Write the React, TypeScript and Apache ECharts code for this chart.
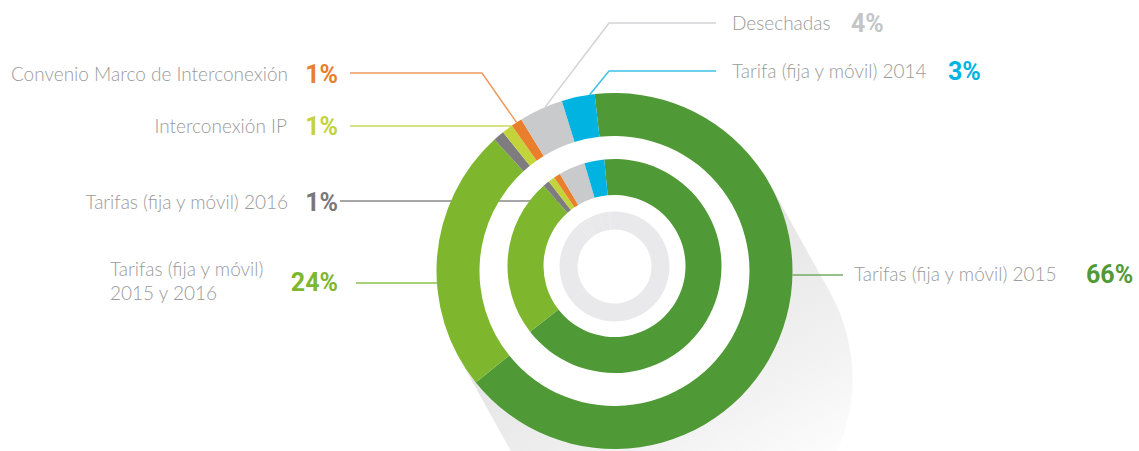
import React, { useEffect, useRef } from "react";
import * as echarts from "echarts";

// ---- data ----
const categories = [
  "Tarifas (fija y móvil) 2015",
  "Tarifas (fija y móvil)\n2015 y 2016",
  "Tarifas (fija y móvil) 2016",
  "Interconexión IP",
  "Convenio Marco de Interconexión",
  "Desechadas",
  "Tarifa (fija y móvil) 2014",
];
const values = [66, 24, 1, 1, 1, 4, 3];
const sliceColors = ["#4f9a36", "#7eb72e", "#7f7c7f", "#c3d33a", "#e97e2c", "#c9cacc", "#00b3e1"];
const pctColors = ["#4f9a36", "#7eb72e", "#7a777a", "#c3d33a", "#e97e2c", "#c4c5c7", "#00b3e1"];
const lineColors = ["#74ad63", "#8cc04a", "#8a888a", "#ccd95a", "#ee9a5e", "#d2d3d5", "#3cc2e8"];

// ---- layout ----
const OUTER = { cx: 614.5, cy: 271, r0: 135, r1: 178, start: 96.4 };
const INNER = { cx: 614.5, cy: 266, r0: 71, r1: 107, start: 95.5 };
const CORE = { cx: 614.5, cy: 266.5, r0: 37, r1: 55 };
const SHADOW_OFFSET = [60, 108];

const NAME_FONT = "Lato, 'Open Sans', sans-serif";
const PCT_FONT = "Roboto, 'Noto Sans', sans-serif";

const total = values.reduce((a, b) => a + b, 0);
const cum = values.map((_, i) => values.slice(0, i).reduce((a, b) => a + b, 0));

// angle in degrees, clockwise from 12 o'clock
const sliceAngle = (ring: typeof OUTER, i: number, f: number) =>
  ((cum[i] + f * values[i]) / total) * 360 - (ring.start - 90);
const onCircle = (ring: typeof OUTER, r: number, deg: number) => {
  const a = (deg * Math.PI) / 180;
  return [ring.cx + r * Math.sin(a), ring.cy - r * Math.cos(a)];
};
const hitY = (ring: typeof OUTER, r: number, y: number, side: number) => [
  ring.cx + side * Math.sqrt(r * r - (y - ring.cy) * (y - ring.cy)),
  y,
];
const atAngleY = (ring: typeof OUTER, deg: number, y: number) => {
  const a = (deg * Math.PI) / 180;
  const r = (ring.cy - y) / Math.cos(a);
  return [ring.cx + r * Math.sin(a), y];
};

type Pos = { x: number; y: number; align: "left" | "right" };
const pctPos: Pos[] = [
  { x: 1086, y: 274, align: "left" },
  { x: 338, y: 282, align: "right" },
  { x: 338, y: 202, align: "right" },
  { x: 338, y: 126, align: "right" },
  { x: 338, y: 74, align: "right" },
  { x: 851, y: 23, align: "left" },
  { x: 948, y: 71, align: "left" },
];
const namePos: Pos[] = [
  { x: 854, y: 273, align: "left" },
  { x: 110, y: 280, align: "left" },
  { x: 288, y: 201, align: "right" },
  { x: 287, y: 125, align: "right" },
  { x: 288, y: 73, align: "right" },
  { x: 732, y: 22, align: "left" },
  { x: 732, y: 70, align: "left" },
];

const leaderLines = (): number[][][] => [
  [hitY(OUTER, OUTER.r1, 275, 1), [818, 275], [843, 275]],
  [hitY(OUTER, OUTER.r1, 283, -1), [396, 283], [356, 283]],
  [atAngleY(INNER, sliceAngle(INNER, 2, 0.5), 201), [450, 201], [340, 201]],
  [hitY(OUTER, OUTER.r1, 126, -1), [430, 126], [350, 126]],
  [onCircle(OUTER, OUTER.r1, sliceAngle(OUTER, 4, 0.5)), [482, 73], [350, 73]],
  [onCircle(OUTER, OUTER.r1, sliceAngle(OUTER, 5, 0.6)), [609, 23], [716, 23]],
  [onCircle(OUTER, OUTER.r1, sliceAngle(OUTER, 6, 0.85)), [609, 71], [716, 71]],
];

function buildShadow() {
  const [ox, oy] = SHADOW_OFFSET;
  const len = Math.hypot(ox, oy);
  const dx = ox / len;
  const dy = oy / len;
  const px = -dy; // perpendicular
  const py = dx;
  const r = OUTER.r1;
  const t1 = [OUTER.cx - r * px, OUTER.cy - r * py];
  const t2 = [OUTER.cx + r * px, OUTER.cy + r * py];
  const mk = () =>
    new echarts.graphic.LinearGradient(
      OUTER.cx,
      OUTER.cy,
      OUTER.cx + dx * 290,
      OUTER.cy + dy * 290,
      [
        { offset: 0, color: "#e3e3e3" },
        { offset: 0.6, color: "#f2f2f2" },
        { offset: 1, color: "#ffffff" },
      ],
      true
    );
  return [
    {
      type: "circle",
      silent: true,
      z: -20,
      shape: { cx: OUTER.cx + ox, cy: OUTER.cy + oy, r },
      style: { fill: mk() },
    },
    {
      type: "polygon",
      silent: true,
      z: -19,
      shape: {
        points: [t1, [t1[0] + ox, t1[1] + oy], [t2[0] + ox, t2[1] + oy], t2],
      },
      style: { fill: mk() },
    },
    {
      type: "circle",
      silent: true,
      z: -10,
      shape: { cx: OUTER.cx, cy: OUTER.cy, r: r - 1 },
      style: { fill: "#ffffff" },
    },
  ];
}

export default function App() {
  const ref = useRef<HTMLDivElement>(null);
  useEffect(() => {
    if (!ref.current) return;
    const chart = echarts.init(ref.current, undefined, { renderer: "svg" });
    const lines = leaderLines();

    const outerData = categories.map((name, i) => ({
      name,
      value: values[i],
      itemStyle: { color: sliceColors[i] },
      label: { color: pctColors[i] },
      labelLine: { lineStyle: { color: lineColors[i] } },
    }));
    const innerData = categories.map((name, i) => ({
      name,
      value: values[i],
      itemStyle: { color: sliceColors[i] },
    }));
    const coreData = categories.map((name, i) => ({
      name,
      value: values[i],
      itemStyle: { color: "#e9e9eb" },
    }));

    chart.setOption({
      animation: false,
      backgroundColor: "#ffffff",
      graphic: { elements: buildShadow() },
      series: [
        {
          type: "pie",
          name: "outer",
          center: [OUTER.cx, OUTER.cy],
          radius: [OUTER.r0, OUTER.r1],
          startAngle: OUTER.start,
          clockwise: true,
          silent: true,
          avoidLabelOverlap: false,
          emphasis: { disabled: true },
          itemStyle: { borderWidth: 0 },
          label: {
            show: true,
            position: "outside",
            formatter: (p: any) => `${p.value}%`,
            fontFamily: PCT_FONT,
            fontWeight: "bold",
            fontSize: 25,
          },
          labelLine: { show: true, smooth: false, lineStyle: { width: 1.5 } },
          labelLayout: (p: any) => {
            const i = p.dataIndex;
            return {
              x: pctPos[i].x,
              y: pctPos[i].y,
              align: pctPos[i].align,
              verticalAlign: "middle",
              labelLinePoints: lines[i],
            };
          },
          data: outerData,
        },
        {
          type: "pie",
          name: "inner",
          center: [INNER.cx, INNER.cy],
          radius: [INNER.r0, INNER.r1],
          startAngle: INNER.start,
          clockwise: true,
          silent: true,
          avoidLabelOverlap: false,
          emphasis: { disabled: true },
          itemStyle: { borderWidth: 0 },
          label: {
            show: true,
            position: "outside",
            formatter: (p: any) => p.name,
            fontFamily: NAME_FONT,
            fontWeight: 300,
            fontSize: 19,
            lineHeight: 24,
            color: "#9a9a9a",
          },
          labelLine: { show: false },
          labelLayout: (p: any) => {
            const i = p.dataIndex;
            return {
              x: namePos[i].x,
              y: namePos[i].y,
              align: namePos[i].align,
              verticalAlign: "middle",
            };
          },
          data: innerData,
        },
        {
          type: "pie",
          name: "core",
          center: [CORE.cx, CORE.cy],
          radius: [CORE.r0, CORE.r1],
          startAngle: INNER.start,
          silent: true,
          emphasis: { disabled: true },
          itemStyle: { borderWidth: 0 },
          label: { show: false },
          labelLine: { show: false },
          data: coreData,
        },
      ],
    });
    return () => chart.dispose();
  }, []);
  return (
    <div
      ref={ref}
      style={{ position: "fixed", left: 0, top: 0, width: 1139, height: 451, background: "#fff" }}
    />
  );
}
